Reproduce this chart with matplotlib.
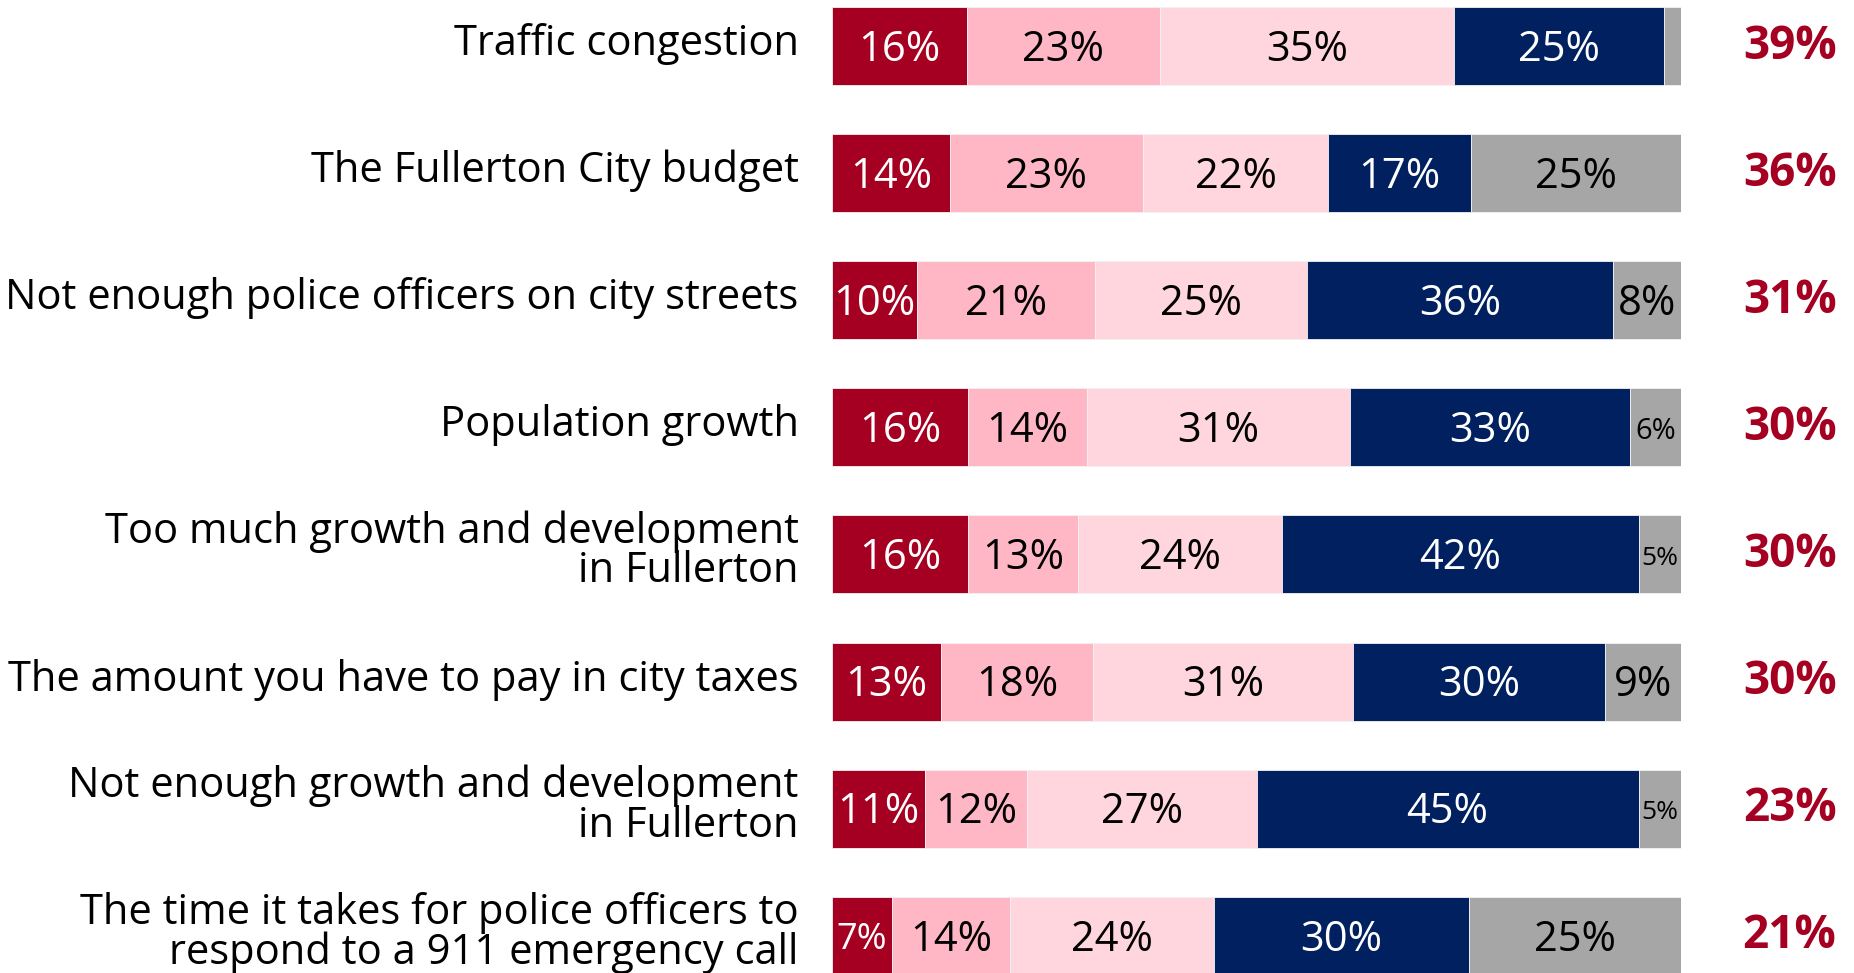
import matplotlib.pyplot as plt
import matplotlib.transforms as mtransforms
import numpy as np

plt.rcParams['font.family'] = ['Open Sans', 'DejaVu Sans']

# issues, top to bottom
issues = ['Traffic congestion',
          'The Fullerton City budget',
          'Not enough police officers on city streets',
          'Population growth',
          'Too much growth and development\nin Fullerton',
          'The amount you have to pay in city taxes',
          'Not enough growth and development\nin Fullerton',
          'The time it takes for police officers to\nrespond to a 911 emergency call']

very_serious = [16, 14, 10, 16, 16, 13, 11, 7]
somewhat_serious = [23, 23, 21, 14, 13, 18, 12, 14]
not_too_serious = [35, 22, 25, 31, 24, 31, 27, 24]
not_a_problem = [25, 17, 36, 33, 42, 30, 45, 30]
dont_know = [2, 25, 8, 6, 5, 9, 5, 25]
total_serious = [39, 36, 31, 30, 30, 30, 23, 21]

series = [very_serious, somewhat_serious, not_too_serious, not_a_problem, dont_know]
colors = ['#A50021', '#FFB7C5', '#FFD5DE', '#002060', '#A6A6A6']
text_colors = ['white', 'black', 'black', 'white', 'black']

data = np.array(series, dtype=float)
shares = data / data.sum(axis=0) * 100   # every bar fills the same width

fig = plt.figure(figsize=(18.54, 9.73), dpi=100)
ax = fig.add_axes([0.4488, 0, 0.4579, 1])

y = np.arange(len(issues))
left = np.zeros(len(issues))
for k in range(len(series)):
    ax.barh(y, shares[k], left=left, height=0.614, color=colors[k],
            edgecolor='#F2F2F2', linewidth=0.6)
    for i in range(len(issues)):
        v = series[k][i]
        if v < 3:
            continue
        # tiny slices get smaller labels
        if v == 5:
            fs = 19
        elif v == 6:
            fs = 21
        elif v == 7:
            fs = 26
        else:
            fs = 30
        ax.text(left[i] + shares[k][i] / 2, y[i] + 0.03, f'{v}%', ha='center',
                va='center', fontsize=fs, color=text_colors[k])
    left += shares[k]

# total serious column on the right
for i, t in enumerate(total_serious):
    ax.text(118.3, y[i], f'{t}%', ha='right', va='center', fontsize=33,
            fontweight='bold', color='#A50021', clip_on=False)

ax.set_xlim(0, 100)
ax.set_ylim(7.293, -0.362)
ax.set_yticks(y)
ax.set_yticklabels(issues, fontsize=30, linespacing=0.93)
ax.tick_params(axis='y', length=0, pad=24)
shift = mtransforms.ScaledTranslation(0, 0.07, fig.dpi_scale_trans)
for lab in ax.get_yticklabels():
    lab.set_transform(lab.get_transform() + shift)
ax.set_xticks([])
for s in ax.spines.values():
    s.set_visible(False)

fig.savefig('out.png', dpi=100)
